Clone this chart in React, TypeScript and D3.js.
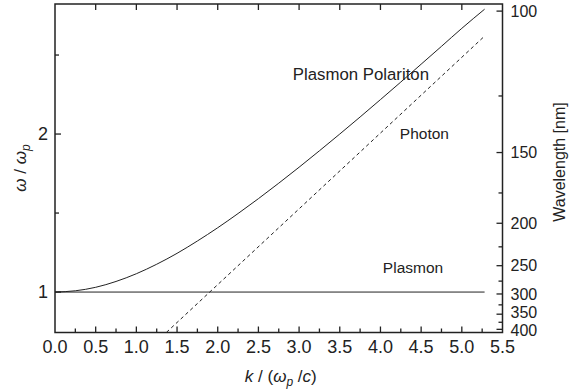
import React, { useEffect, useRef } from "react";
import * as d3 from "d3";

const W = 571;
const H = 389;

// solid curve: plasmon polariton, k in units of wp/c, omega in units of wp
const polaritonK = [0, 0.25, 0.5, 0.75, 1.0, 1.25, 1.5, 1.75, 2.0, 2.25, 2.5, 2.75, 3.0, 3.25, 3.5, 3.75, 4.0, 4.25, 4.5, 4.75, 5.0, 5.28];
const polaritonW = [1.0, 1.008, 1.03, 1.067, 1.116, 1.176, 1.245, 1.323, 1.407, 1.497, 1.591, 1.689, 1.79, 1.894, 2.0, 2.108, 2.218, 2.329, 2.442, 2.555, 2.669, 2.79];
// dashed photon line
const photonK = [1.37, 5.28];
const photonW = [0.745, 2.62];
// flat plasmon line
const plasmonK = [0, 5.28];
const plasmonW = [1, 1];

const xTicks = [0, 0.5, 1.0, 1.5, 2.0, 2.5, 3.0, 3.5, 4.0, 4.5, 5.0, 5.5];
const xMinor = [0.25, 0.75, 1.25, 1.75, 2.25, 2.75, 3.25, 3.75, 4.25, 4.75, 5.25];
const yTicks = [1, 2];
const yMinor = [1.5, 2.5];
const waveTicks = [100, 150, 200, 250, 300, 350, 400];
const waveMinor = [125, 175, 225, 275, 325, 375];

const labels = [
  { text: "Plasmon Polariton", k: 3.76, w: 2.345, size: 16.8 },
  { text: "Photon", k: 4.54, w: 1.97, size: 15.5 },
  { text: "Plasmon", k: 4.4, w: 1.12, size: 15.5 },
];

const FONT = "'Liberation Sans', Arial, Helvetica, sans-serif";
const INK = "#222";

export default function App() {
  const ref = useRef<SVGSVGElement>(null);

  useEffect(() => {
    const svg = d3.select(ref.current);
    svg.selectAll("*").remove();

    const margin = { left: 55, right: 69, top: 4, bottom: 56.5 };
    const x = d3.scaleLinear().domain([0, 5.5]).range([margin.left, W - margin.right + 0.5]);
    const y = d3.scaleLinear().domain([0.744, 2.823]).range([H - margin.bottom, margin.top]);
    // right axis: linear in 1/wavelength, calibrated to the omega axis
    const yWave = d3.scaleLinear().domain([1 / 400, 1 / 100]).range([y(0.764), y(2.778)]);

    const x0 = x(0), x1 = x(5.5), y0 = y(0.744), y1 = y(2.823);

    // curves
    const line = d3
      .line<[number, number]>()
      .x((d) => x(d[0]))
      .y((d) => y(d[1]))
      .curve(d3.curveMonotoneX);

    svg
      .append("path")
      .datum(polaritonK.map((k, i) => [k, polaritonW[i]] as [number, number]))
      .attr("d", line)
      .attr("fill", "none")
      .attr("stroke", INK)
      .attr("stroke-width", 1);

    svg
      .append("path")
      .datum(photonK.map((k, i) => [k, photonW[i]] as [number, number]))
      .attr("d", line)
      .attr("fill", "none")
      .attr("stroke", INK)
      .attr("stroke-width", 1)
      .attr("stroke-dasharray", "3.5,3");

    svg
      .append("path")
      .datum(plasmonK.map((k, i) => [k, plasmonW[i]] as [number, number]))
      .attr("d", line)
      .attr("fill", "none")
      .attr("stroke", INK)
      .attr("stroke-width", 1);

    // ticks (all inward)
    const tick = (x1_: number, y1_: number, x2_: number, y2_: number) =>
      svg
        .append("line")
        .attr("x1", x1_)
        .attr("y1", y1_)
        .attr("x2", x2_)
        .attr("y2", y2_)
        .attr("stroke", INK)
        .attr("stroke-width", 1.3);

    xTicks.slice(1, -1).forEach((v) => {
      tick(x(v), y0, x(v), y0 - 6);
      tick(x(v), y1, x(v), y1 + 6);
    });
    xMinor.forEach((v) => tick(x(v), y0, x(v), y0 - 4));
    yTicks.forEach((v) => tick(x0, y(v), x0 + 6, y(v)));
    yMinor.forEach((v) => tick(x0, y(v), x0 + 4, y(v)));
    waveTicks.forEach((v) => tick(x1, yWave(1 / v), x1 - 6, yWave(1 / v)));
    waveMinor.forEach((v) => tick(x1, yWave(1 / v), x1 - 4, yWave(1 / v)));

    // frame
    svg
      .append("rect")
      .attr("x", x0)
      .attr("y", y1)
      .attr("width", x1 - x0)
      .attr("height", y0 - y1)
      .attr("fill", "none")
      .attr("stroke", INK)
      .attr("stroke-width", 1.5);

    const txt = (s: any) => s.attr("font-family", FONT).attr("fill", INK);

    // tick labels
    xTicks.forEach((v) =>
      txt(svg.append("text"))
        .attr("x", x(v))
        .attr("y", y0 + 20.5)
        .attr("text-anchor", "middle")
        .attr("font-size", 18)
        .text(d3.format(".1f")(v))
    );
    yTicks.forEach((v) =>
      txt(svg.append("text"))
        .attr("x", x0 - 7)
        .attr("y", y(v))
        .attr("dy", "0.35em")
        .attr("text-anchor", "end")
        .attr("font-size", 18)
        .text(v)
    );
    // the crowded labels at the long-wavelength end are spread a little, as in the original
    const waveNudge: Record<number, number> = { 350: -1.5, 400: 1.5 };
    waveTicks.forEach((v) =>
      txt(svg.append("text"))
        .attr("x", x1 + 8)
        .attr("y", yWave(1 / v) + (waveNudge[v] || 0))
        .attr("dy", "0.35em")
        .attr("text-anchor", "start")
        .attr("font-size", 16)
        .text(v)
    );

    // curve labels
    labels.forEach((l) =>
      txt(svg.append("text"))
        .attr("x", x(l.k))
        .attr("y", y(l.w))
        .attr("text-anchor", "middle")
        .attr("font-size", l.size)
        .text(l.text)
    );

    // x title: k / (wp /c)
    const xt = txt(svg.append("text"))
      .attr("x", (x0 + x1) / 2 + 2)
      .attr("y", 382)
      .attr("text-anchor", "middle")
      .attr("font-size", 17);
    xt.append("tspan").attr("font-style", "italic").text("k");
    xt.append("tspan").text(" / (");
    xt.append("tspan").attr("font-style", "italic").text("ω");
    xt.append("tspan").attr("font-style", "italic").attr("font-size", 12).attr("dy", 4).text("p");
    xt.append("tspan").attr("dy", -4).text(" /");
    xt.append("tspan").attr("font-style", "italic").text("c");
    xt.append("tspan").text(")");

    // left title: w / wp
    const yt = txt(svg.append("text"))
      .attr("transform", `translate(26,${(y(1) + y(2)) / 2 - 45}) rotate(-90)`)
      .attr("text-anchor", "middle")
      .attr("font-size", 17);
    yt.append("tspan").attr("font-style", "italic").text("ω");
    yt.append("tspan").text(" / ");
    yt.append("tspan").attr("font-style", "italic").text("ω");
    yt.append("tspan").attr("font-style", "italic").attr("font-size", 12).attr("dy", 4).text("p");

    // right title
    txt(svg.append("text"))
      .attr("transform", `translate(565,162) rotate(-90)`)
      .attr("text-anchor", "middle")
      .attr("font-size", 16)
      .text("Wavelength [nm]");
  }, []);

  return (
    <svg
      ref={ref}
      width={W}
      height={H}
      viewBox={`0 0 ${W} ${H}`}
      style={{ position: "absolute", left: 0, top: 0, background: "#fff" }}
    ></svg>
  );
}
